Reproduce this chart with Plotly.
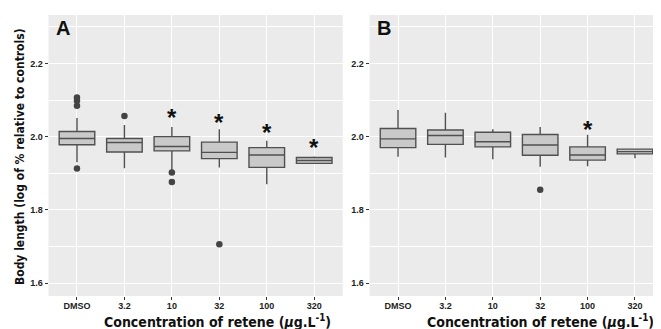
import plotly.graph_objects as go

categories = ["DMSO", "3.2", "10", "32", "100", "320"]

# Panel A (precomputed box statistics)
a_q1 = [1.978, 1.958, 1.961, 1.940, 1.916, 1.927]
a_med = [1.995, 1.984, 1.973, 1.957, 1.950, 1.935]
a_q3 = [2.014, 1.995, 2.000, 1.985, 1.970, 1.943]
a_lo = [1.930, 1.914, 1.909, 1.916, 1.870, 1.927]
a_hi = [2.051, 2.032, 2.026, 2.020, 1.989, 1.946]
a_out_x = ["DMSO", "DMSO", "DMSO", "DMSO", "3.2", "10", "10", "32"]
a_out_y = [2.107, 2.098, 2.084, 1.913, 2.056, 1.902, 1.876, 1.706]
a_star = [None, None, 2.065, 2.053, 2.025, 1.985]

# Panel B
b_q1 = [1.970, 1.979, 1.972, 1.949, 1.936, 1.953]
b_med = [1.994, 2.003, 1.986, 1.977, 1.950, 1.959]
b_q3 = [2.022, 2.018, 2.012, 2.006, 1.972, 1.966]
b_lo = [1.945, 1.943, 1.938, 1.918, 1.919, 1.941]
b_hi = [2.073, 2.065, 2.020, 2.026, 2.005, 1.966]
b_out_x = ["32"]
b_out_y = [1.855]
b_star = [None, None, None, None, 2.034, None]

y_ticks = [1.6, 1.8, 2.0, 2.2]
y_tick_labels = ["1.6", "1.8", "2.0", "2.2"]

W, H = 661, 329
OFF = 8  # page body margin offset
BG = "#EBEBEB"
BOX_FILL = "#C9C9C9"
BOX_LINE = "#505050"
TXT = "#222222"
NARROW = "Liberation Sans Narrow, DejaVu Sans Condensed, Arial Narrow, Arial, sans-serif"
SANS = "Liberation Sans, Arial, Helvetica, sans-serif"


def px(x):
    return (x - OFF) / W


def py(y):
    return (H - (y - OFF)) / H


fig = go.Figure()

panels = [
    ("x", "y", a_q1, a_med, a_q3, a_lo, a_hi, a_out_x, a_out_y, a_star),
    ("x2", "y2", b_q1, b_med, b_q3, b_lo, b_hi, b_out_x, b_out_y, b_star),
]
for xa, ya, q1, med, q3, lo, hi, ox, oy, stars in panels:
    fig.add_trace(go.Box(
        x=categories, q1=q1, median=med, q3=q3,
        lowerfence=lo, upperfence=hi,
        boxpoints=False, width=0.75, whiskerwidth=0,
        fillcolor=BOX_FILL, line=dict(color=BOX_LINE, width=1.4),
        xaxis=xa, yaxis=ya, showlegend=False, hoverinfo="skip",
    ))
    fig.add_trace(go.Scatter(
        x=ox, y=oy, mode="markers",
        marker=dict(color="#444444", size=6.5, line=dict(width=0)),
        xaxis=xa, yaxis=ya, showlegend=False, hoverinfo="skip",
    ))
    for i, s in enumerate(stars):
        if s is not None:
            fig.add_annotation(
                x=i, y=s, xref=xa, yref=ya, text="<b>*</b>", showarrow=False,
                font=dict(family=SANS, size=24, color="#111111"),
                yanchor="middle", yshift=-5,
            )

ax_dom = [px(48.5), px(342.7)]
bx_dom = [px(369.6), px(663.4)]
y_dom = [py(296), py(15)]

common_x = dict(
    type="category", categoryorder="array", categoryarray=categories,
    range=[-0.6, 5.6],
    showgrid=True, gridcolor="white", gridwidth=1.1, zeroline=False,
    ticks="outside", ticklen=3, tickwidth=1, tickcolor="#333333",
    tickfont=dict(family=SANS, size=9, color=TXT, weight="bold"),
    ticklabelstandoff=-2,
    showline=False, automargin=False,
)
common_y = dict(
    range=[1.565, 2.332], tickvals=y_ticks, ticktext=y_tick_labels,
    showgrid=True, gridcolor="white", gridwidth=1.1, zeroline=False,
    minor=dict(tickvals=[1.7, 1.9, 2.1, 2.3], showgrid=True, gridcolor="white", gridwidth=0.5, ticks=""),
    ticks="outside", ticklen=3, tickwidth=1, tickcolor="#333333",
    tickfont=dict(family=SANS, size=9, color=TXT, weight="bold"),
    showline=False, automargin=False, domain=y_dom,
)

fig.update_layout(
    width=W, height=H,
    margin=dict(l=0, r=0, t=0, b=0),
    paper_bgcolor="white", plot_bgcolor=BG,
    xaxis=dict(domain=ax_dom, anchor="y", **common_x),
    xaxis2=dict(domain=bx_dom, anchor="y2", **common_x),
    yaxis=dict(anchor="x", **common_y),
    yaxis2=dict(anchor="x2", **common_y),
)

# Panel letters
for txt, xa, ya in [("A", "x", "y"), ("B", "x2", "y2")]:
    fig.add_annotation(
        x=0, y=1, xref=f"{xa} domain", yref=f"{ya} domain", text=f"<b>{txt}</b>",
        showarrow=False, xanchor="left", yanchor="top", xshift=5, yshift=0,
        font=dict(family=SANS, size=20, color="#111111"),
    )

# Axis titles
xt = "<b>Concentration of retene (</b><b><i>\u03bc</i>g.L<sup>-1</sup>)</b>"
for xc in [217, 540]:
    fig.add_annotation(
        x=px(xc), y=py(321), xref="paper", yref="paper", text=xt,
        showarrow=False, xanchor="center", yanchor="middle",
        font=dict(family=NARROW, size=14, color="#111111"),
    )
fig.add_annotation(
    x=px(20), y=py(157), xref="paper", yref="paper",
    text="<b>Body length (log of % relative to controls)</b>",
    showarrow=False, textangle=-90, xanchor="center", yanchor="middle",
    font=dict(family=NARROW, size=12, color="#111111"),
)

fig.write_html("out.html")
